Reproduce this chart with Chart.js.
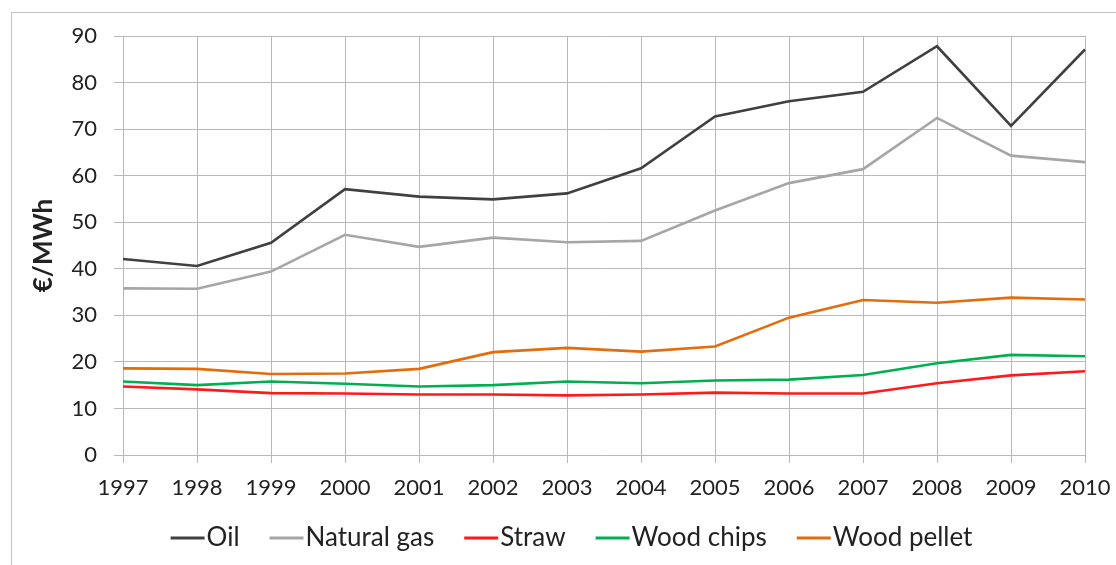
<!DOCTYPE html>
<html>
<head>
<meta charset="utf-8">
<script src="https://cdn.jsdelivr.net/npm/chart.js@4.4.1/dist/chart.umd.min.js"></script>
<style>
  html, body { margin: 0; padding: 0; background: #ffffff; }
  #wrap { width: 1116px; height: 565px; position: relative; }
</style>
</head>
<body>
<div id="wrap"><canvas id="c" width="1116" height="565"></canvas></div>
<script>
// Fuel prices, €/MWh
const years = ['1997','1998','1999','2000','2001','2002','2003','2004','2005','2006','2007','2008','2009','2010'];
const oil        = [42.1, 40.6, 45.6, 57.1, 55.5, 54.9, 56.2, 61.6, 72.7, 76.0, 78.0, 87.8, 70.7, 87.1];
const naturalGas = [35.8, 35.7, 39.4, 47.3, 44.7, 46.7, 45.7, 46.0, 52.5, 58.4, 61.4, 72.4, 64.3, 62.9];
const straw      = [14.7, 14.1, 13.3, 13.2, 13.0, 13.0, 12.8, 13.0, 13.4, 13.2, 13.2, 15.4, 17.1, 18.0];
const woodChips  = [15.8, 15.0, 15.8, 15.3, 14.7, 15.0, 15.8, 15.4, 16.0, 16.2, 17.2, 19.7, 21.5, 21.2];
const woodPellet = [18.6, 18.5, 17.4, 17.5, 18.5, 22.1, 23.0, 22.2, 23.3, 29.5, 33.3, 32.7, 33.8, 33.4];
const yTicks = [0, 10, 20, 30, 40, 50, 60, 70, 80, 90];
const yTitle = '€/MWh';

const FONT = 'Lato, "Open Sans", sans-serif';
const TEXT = '#222222';
const GRID = '#b8b8b8';

function series(label, data, color) {
  return {
    label, data,
    borderColor: color,
    backgroundColor: color,
    borderWidth: 2.6,
    pointRadius: 0,
    pointHoverRadius: 0,
    tension: 0,
    fill: false
  };
}

// Outer frame of the chart box
const framePlugin = {
  id: 'frame',
  beforeDraw(chart) {
    const ctx = chart.ctx;
    ctx.save();
    ctx.strokeStyle = '#c8c8c8';
    ctx.lineWidth = 1.2;
    ctx.strokeRect(11.5, 12.5, 1300, 700);
    ctx.restore();
  }
};

// Legend row: short line sample followed by the series name
const lineLegendPlugin = {
  id: 'lineLegend',
  afterDraw(chart) {
    const ctx = chart.ctx;
    const sets = chart.data.datasets;
    const sampleW = 34, sampleGap = 2, itemGap = 30;
    ctx.save();
    ctx.font = '26px ' + FONT;
    ctx.textBaseline = 'middle';
    const widths = sets.map(d => sampleW + sampleGap + ctx.measureText(d.label).width);
    const total = widths.reduce((a, b) => a + b, 0) + itemGap * (sets.length - 1);
    let x = 571.5 - total / 2;
    const y = 538;
    sets.forEach((d, i) => {
      ctx.strokeStyle = d.borderColor;
      ctx.lineWidth = 3;
      ctx.beginPath();
      ctx.moveTo(x, y);
      ctx.lineTo(x + sampleW, y);
      ctx.stroke();
      ctx.fillStyle = TEXT;
      ctx.fillText(d.label, x + sampleW + sampleGap, y);
      x += widths[i] + itemGap;
    });
    ctx.restore();
  }
};

new Chart(document.getElementById('c'), {
  type: 'line',
  data: {
    labels: years,
    datasets: [
      series('Oil', oil, '#404040'),
      series('Natural gas', naturalGas, '#a6a6a6'),
      series('Straw', straw, '#ff1a1a'),
      series('Wood chips', woodChips, '#00b050'),
      series('Wood pellet', woodPellet, '#e46c0a')
    ]
  },
  options: {
    responsive: false,
    animation: false,
    devicePixelRatio: 1,
    layout: { padding: { left: 20, top: 36, right: 31, bottom: 60 } },
    plugins: {
      legend: { display: false },
      tooltip: { enabled: false }
    },
    scales: {
      x: {
        type: 'category',
        offset: false,
        border: { color: GRID, width: 1 },
        grid: { color: GRID, lineWidth: 1, tickLength: 8, tickColor: GRID },
        ticks: { color: TEXT, font: { family: FONT, size: 22 }, padding: 12, maxRotation: 0, autoSkip: false },
        afterFit(s) { s.height = 50; s.paddingLeft = 0; s.paddingRight = 0; }
      },
      y: {
        min: 0, max: 90,
        afterBuildTicks(s) { s.ticks = yTicks.map(v => ({ value: v })); },
        border: { color: GRID, width: 1 },
        grid: { color: GRID, lineWidth: 1, tickLength: 9, tickColor: GRID },
        ticks: { color: TEXT, font: { family: FONT, size: 22 }, padding: 17 },
        title: {
          display: true,
          text: yTitle,
          color: TEXT,
          font: { family: FONT, size: 26, weight: 'bold' },
          padding: { top: 8, bottom: 0 }
        },
        afterFit(s) { s.width = 103; s.paddingTop = 0; s.paddingBottom = 0; }
      }
    }
  },
  plugins: [framePlugin, lineLegendPlugin]
});
</script>
</body>
</html>
